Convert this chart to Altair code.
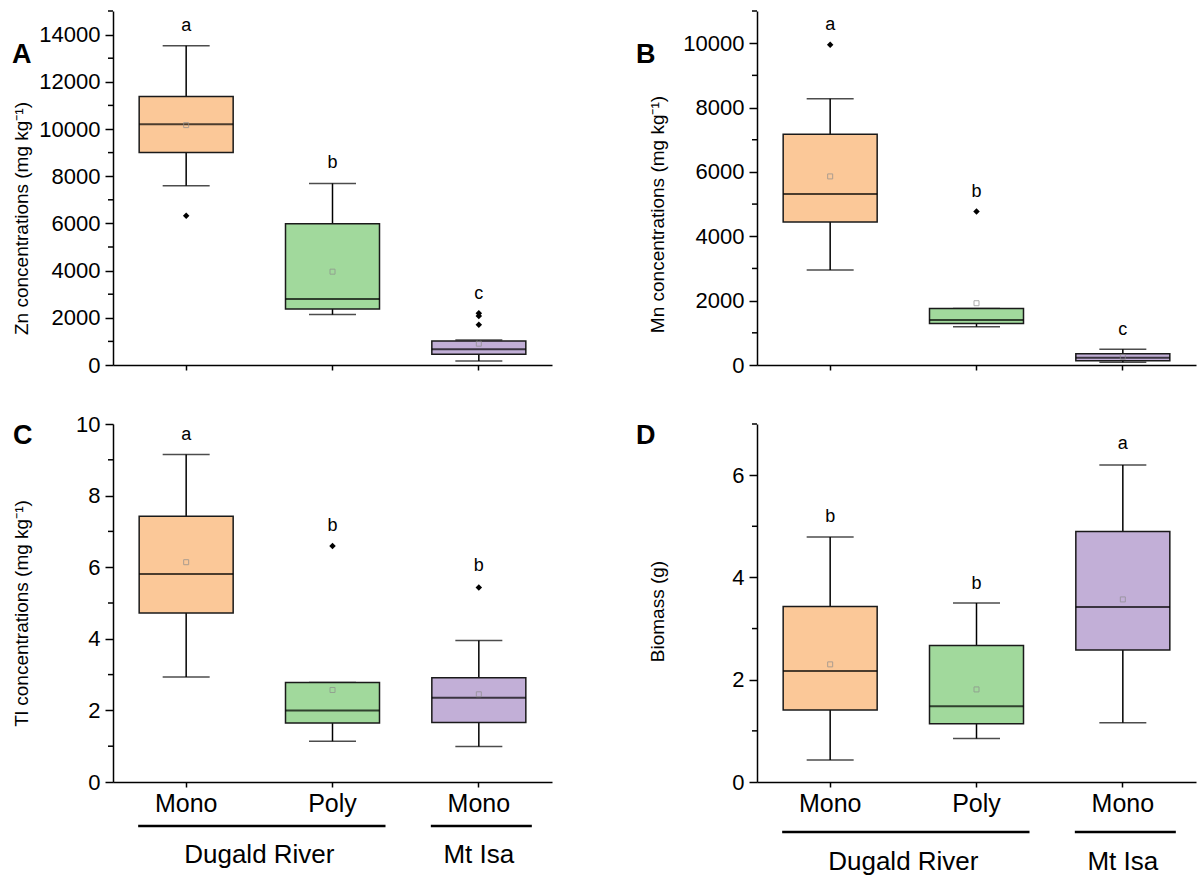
import altair as alt
import pandas as pd

keys = ["DR-Mono", "DR-Poly", "MI-Mono"]
box_colors = ["#FBC898", "#A1D99C", "#C2AFD7"]
group_names = ["Dugald River", "Mt Isa"]
group_start = ["DR-Mono", "MI-Mono"]
group_end = ["DR-Poly", "MI-Mono"]
group_band = [1.0, 0.5]

# Panel A: Zn
zn_lower = [7600, 2135, 170]
zn_q1 = [9005, 2378, 453]
zn_median = [10205, 2800, 667]
zn_q3 = [11378, 5980, 1020]
zn_upper = [13525, 7694, 1060]
zn_mean = [10165, 3955, 903]
zn_out_key = ["DR-Mono", "MI-Mono", "MI-Mono", "MI-Mono"]
zn_out_val = [6327, 2190, 2078, 1708]
zn_letters = ["a", "b", "c"]
zn_letter_y = [14370, 8540, 3000]

# Panel B: Mn
mn_lower = [2950, 1190, 85]
mn_q1 = [4440, 1290, 130]
mn_median = [5310, 1400, 225]
mn_q3 = [7170, 1752, 350]
mn_upper = [8270, 1752, 490]
mn_mean = [5860, 1920, 250]
mn_out_key = ["DR-Mono", "DR-Poly"]
mn_out_val = [9950, 4770]
mn_letters = ["a", "b", "c"]
mn_letter_y = [10550, 5380, 1080]

# Panel C: Tl
tl_lower = [2.93, 1.14, 0.99]
tl_q1 = [4.72, 1.65, 1.66]
tl_median = [5.81, 2.00, 2.35]
tl_q3 = [7.42, 2.78, 2.91]
tl_upper = [9.15, 2.78, 3.95]
tl_mean = [6.14, 2.57, 2.45]
tl_out_key = ["DR-Poly", "MI-Mono"]
tl_out_val = [6.59, 5.43]
tl_letters = ["a", "b", "b"]
tl_letter_y = [9.70, 7.16, 6.02]

# Panel D: Biomass
bm_lower = [0.43, 0.85, 1.16]
bm_q1 = [1.41, 1.14, 2.58]
bm_median = [2.17, 1.48, 3.42]
bm_q3 = [3.43, 2.67, 4.90]
bm_upper = [4.79, 3.50, 6.20]
bm_mean = [2.30, 1.81, 3.57]
bm_out_key = []
bm_out_val = []
bm_letters = ["b", "b", "a"]
bm_letter_y = [5.18, 3.88, 6.60]

panel_letters = ["A", "B", "C", "D"]

FONT = "Liberation Sans"
W = 439


def panel(letter, title, domain, major, minor, lower, q1, med, q3, upper, mean,
          out_key, out_val, letters, letter_y, height, show_labels, title_x, title_y,
          letter_x, letter_yp, group_line_y=None, group_text_y=None):
    df = pd.DataFrame({"key": keys, "lower": lower, "q1": q1, "median": med,
                       "q3": q3, "upper": upper, "mean": mean,
                       "letter": letters, "letter_y": letter_y})
    out_df = pd.DataFrame({"key": out_key, "value": out_val})
    minor_df = pd.DataFrame({"minor": minor})

    xscale = alt.Scale(domain=keys, paddingInner=0, paddingOuter=0)
    xaxis = alt.Axis(title=None, labels=show_labels, labelExpr="split(datum.value, '-')[1]",
                     labelAngle=0, labelFontSize=25, labelColor="black", labelPadding=4,
                     labelFont=FONT, tickSize=5, tickWidth=1.5, tickColor="black",
                     domainColor="black", domainWidth=1.5, grid=False)
    yscale = alt.Scale(domain=domain, nice=False, zero=True)
    yaxis = alt.Axis(title=title, values=major, format="d", grid=False,
                     labelFontSize=22, labelColor="black", labelPadding=5, labelFont=FONT,
                     tickSize=8, tickWidth=1.5, tickColor="black",
                     domainColor="black", domainWidth=1.5,
                     titleFontSize=19, titleFontWeight="normal", titleColor="black",
                     titleFont=FONT, titleAngle=270, titleX=title_x, titleY=title_y,
                     titleAlign="center", titleBaseline="middle")

    def X(f="key"):
        return alt.X(f"{f}:N", scale=xscale, axis=xaxis)

    def Y(f):
        return alt.Y(f"{f}:Q", scale=yscale, axis=yaxis)

    base = alt.Chart(df)
    whisk_lo = base.mark_rule(color="black", strokeWidth=1.5).encode(
        x=X(), y=Y("lower"), y2=alt.Y2("q1"))
    whisk_hi = base.mark_rule(color="black", strokeWidth=1.5).encode(
        x=X(), y=Y("q3"), y2=alt.Y2("upper"))
    cap_lo = base.mark_tick(color="black", size=47, thickness=1.5).encode(x=X(), y=Y("lower"))
    cap_hi = base.mark_tick(color="black", size=47, thickness=1.5).encode(x=X(), y=Y("upper"))
    boxes = base.mark_bar(width=94, stroke="#1a1a1a", strokeWidth=1.5).encode(
        x=X(), y=Y("q1"), y2=alt.Y2("q3"),
        fill=alt.Fill("key:N", scale=alt.Scale(domain=keys, range=box_colors), legend=None))
    medians = base.mark_tick(color="black", size=94, thickness=2).encode(x=X(), y=Y("median"))
    means = base.mark_point(shape="square", size=25, filled=False, strokeWidth=1,
                            color="#8c8c8c").encode(x=X(), y=Y("mean"))
    texts = base.mark_text(fontSize=18, font=FONT, color="black", baseline="middle").encode(
        x=X(), y=Y("letter_y"), text="letter:N")
    minor_ticks = alt.Chart(minor_df).mark_rule(color="black", strokeWidth=1.5).encode(
        y=Y("minor"), x=alt.value(-5), x2=alt.value(0))
    plabel = alt.Chart(pd.DataFrame({"p": [letter]})).mark_text(
        fontSize=27, fontWeight="bold", font=FONT, align="left", baseline="alphabetic",
        color="black").encode(x=alt.value(letter_x), y=alt.value(letter_yp), text="p:N")

    layers = [whisk_lo, whisk_hi, cap_lo, cap_hi, boxes, medians, means, texts, minor_ticks, plabel]
    if len(out_key):
        outs = alt.Chart(out_df).mark_point(shape="diamond", filled=True, size=42,
                                            color="black", opacity=1).encode(
            x=X(), y=Y("value"))
        layers.append(outs)
    if group_line_y is not None:
        gdf = pd.DataFrame({"group": group_names, "start": group_start, "end": group_end})
        glines = alt.Chart(gdf).mark_rule(color="black", strokeWidth=2.5,
                                          xOffset=-48, x2Offset=53).encode(
            x=X("start"), x2=alt.X2("end"), y=alt.value(height + group_line_y))
        layers.append(glines)
        for name, anchor, bp in zip(group_names, group_start, group_band):
            tdf = pd.DataFrame({"group": [name], "anchor": [anchor]})
            gt = alt.Chart(tdf).mark_text(fontSize=26, font=FONT, color="black",
                                          baseline="alphabetic", align="center").encode(
                x=alt.X("anchor:N", scale=xscale, axis=xaxis, bandPosition=bp),
                y=alt.value(height + group_text_y), text="group:N")
            layers.append(gt)
    return alt.layer(*layers).properties(width=W, height=height)


pA = panel("A", "Zn concentrations (mg kg⁻¹)", [0, 15000], list(range(0, 14001, 2000)),
           list(range(1000, 15001, 2000)), zn_lower, zn_q1, zn_median, zn_q3, zn_upper,
           zn_mean, zn_out_key, zn_out_val, zn_letters, zn_letter_y, 354, False,
           -92, 207, -101, 52)
pB = panel("B", "Mn concentrations (mg kg⁻¹)", [0, 11000], list(range(0, 10001, 2000)),
           list(range(1000, 11001, 2000)), mn_lower, mn_q1, mn_median, mn_q3, mn_upper,
           mn_mean, mn_out_key, mn_out_val, mn_letters, mn_letter_y, 354, False,
           -100, 203, -121, 52)
pC = panel("C", "Tl concentrations (mg kg⁻¹)", [0, 10], [0, 2, 4, 6, 8, 10],
           [1, 3, 5, 7, 9], tl_lower, tl_q1, tl_median, tl_q3, tl_upper,
           tl_mean, tl_out_key, tl_out_val, tl_letters, tl_letter_y, 358, True,
           -92, 189, -100, 20, 44, 81)
pD = panel("D", "Biomass (g)", [0, 7], [0, 2, 4, 6], [1, 3, 5, 7],
           bm_lower, bm_q1, bm_median, bm_q3, bm_upper,
           bm_mean, bm_out_key, bm_out_val, bm_letters, bm_letter_y, 358, True,
           -100, 187, -121, 20, 50, 88)

chart = alt.concat(pA, pB, pC, pD, columns=2, spacing={"row": 59, "column": 205},
                   bounds="flush").properties(
    padding={"left": 12, "top": 10, "right": 2, "bottom": 2}
).configure(font=FONT, background="white").configure_view(stroke="transparent", strokeWidth=0)

chart.save("out.html", embed_options={"renderer": "svg", "actions": False})
